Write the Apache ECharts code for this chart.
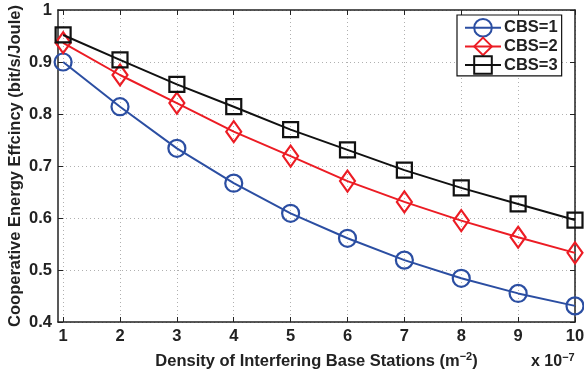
<!DOCTYPE html>
<html>
<head>
<meta charset="utf-8">
<script src="https://cdn.jsdelivr.net/npm/echarts@6/dist/echarts.min.js"></script>
<style>
  html, body { margin: 0; padding: 0; background: #fff; }
  #chart { width: 584px; height: 374px; }
</style>
</head>
<body>
<div id="chart"></div>
<script>
// Density of interfering base stations (x 10^-7 per m^2)
const density = [1, 2, 3, 4, 5, 6, 7, 8, 9, 10];
const xTicks = [1, 2, 3, 4, 5, 6, 7, 8, 9, 10];

// Cooperative energy efficiency (bit/s/Joule) per number of cooperating BSs
const cbs1 = [0.900, 0.814, 0.734, 0.667, 0.609, 0.561, 0.519, 0.484, 0.455, 0.431];
const cbs2 = [0.937, 0.875, 0.821, 0.766, 0.719, 0.671, 0.631, 0.595, 0.563, 0.533];
const cbs3 = [0.952, 0.904, 0.857, 0.814, 0.770, 0.731, 0.692, 0.658, 0.627, 0.596];

const seriesNames = ['CBS=1', 'CBS=2', 'CBS=3'];

const font = 'Liberation Sans, Arial, sans-serif';
const pairs = arr => density.map((x, i) => [x, arr[i]]);

const chart = echarts.init(document.getElementById('chart'), null, { renderer: 'canvas' });

const gridLine = { show: true, lineStyle: { color: '#b0b0b0', type: [1, 3], width: 1 } };
const axisLine = { show: true, onZero: false, lineStyle: { color: '#222', width: 1.5 } };
const supStyle = { fontFamily: font, fontWeight: 'bold', fontSize: 11, color: '#222', verticalAlign: 'top', padding: [0, 0, 9, 0] };

chart.setOption({
  animation: false,
  backgroundColor: '#fff',
  grid: { left: 58, right: 9, top: 10, bottom: 52, containLabel: false, outerBoundsMode: 'none' },
  legend: {
    data: seriesNames,
    orient: 'vertical',
    left: 457,
    top: 15,
    padding: [3, 4, 1, 7],
    itemGap: -1,
    itemWidth: 36,
    itemHeight: 22,
    backgroundColor: '#fff',
    borderColor: '#111',
    borderWidth: 1.2,
    textStyle: { fontFamily: font, fontWeight: 'bold', fontSize: 16.5, color: '#222', padding: [0, 0, 0, -2] }
  },
  xAxis: [
    {
      type: 'value', min: 0.91, max: 10, position: 'bottom',
      name: 'Density of Interfering Base Stations (m{sup|−2})',
      nameLocation: 'middle', nameGap: 29, nameMoveOverlap: false,
      nameTextStyle: {
        fontFamily: font, fontWeight: 'bold', fontSize: 16.5, color: '#222',
        rich: { sup: supStyle }
      },
      axisLine: axisLine,
      axisTick: { show: true, inside: true, length: 5, customValues: xTicks, lineStyle: { color: '#222' } },
      axisLabel: { customValues: xTicks, fontFamily: font, fontWeight: 'bold', fontSize: 16.5, color: '#222', margin: 6 },
      splitLine: gridLine
    },
    {
      type: 'value', min: 0.91, max: 10, position: 'top',
      axisLine: axisLine,
      axisTick: { show: true, inside: true, length: 5, customValues: xTicks, lineStyle: { color: '#222' } },
      axisLabel: { show: false },
      splitLine: { show: false }
    }
  ],
  yAxis: [
    {
      type: 'value', min: 0.4, max: 1, interval: 0.1, position: 'left',
      name: 'Cooperative Energy Effcincy (bit/s/Joule)',
      nameLocation: 'middle', nameGap: 34, nameMoveOverlap: false,
      nameTextStyle: { fontFamily: font, fontWeight: 'bold', fontSize: 16.5, color: '#222' },
      axisLine: axisLine,
      axisTick: { show: true, inside: true, length: 5, lineStyle: { color: '#222' } },
      axisLabel: {
        fontFamily: font, fontWeight: 'bold', fontSize: 16.5, color: '#222', margin: 6,
        formatter: v => (Math.abs(v - 1) < 1e-9 ? '1' : v.toFixed(1))
      },
      splitLine: gridLine
    },
    {
      type: 'value', min: 0.4, max: 1, interval: 0.1, position: 'right',
      axisLine: axisLine,
      axisTick: { show: true, inside: true, length: 5, lineStyle: { color: '#222' } },
      axisLabel: { show: false },
      splitLine: { show: false }
    }
  ],
  graphic: [
    {
      type: 'text', left: 531, top: 352,
      style: {
        text: 'x 10{sup|−7}',
        fontFamily: font, fontWeight: 'bold', fontSize: 16, fill: '#222',
        rich: { sup: { fontFamily: font, fontWeight: 'bold', fontSize: 11, fill: '#222', verticalAlign: 'top', padding: [0, 0, 9, 0] } }
      }
    }
  ],
  series: [
    {
      name: seriesNames[0], type: 'line', data: pairs(cbs1),
      symbol: 'circle', symbolSize: 17, showAllSymbol: true,
      lineStyle: { color: '#2b4ea2', width: 2 },
      itemStyle: { color: 'rgba(255,255,255,0)', borderColor: '#2b4ea2', borderWidth: 2.2 },
      z: 3
    },
    {
      name: seriesNames[1], type: 'line', data: pairs(cbs2),
      symbol: 'diamond', symbolSize: [15, 21], showAllSymbol: true,
      lineStyle: { color: '#ec1c24', width: 2 },
      itemStyle: { color: 'rgba(255,255,255,0)', borderColor: '#ec1c24', borderWidth: 2.2 },
      z: 4
    },
    {
      name: seriesNames[2], type: 'line', data: pairs(cbs3),
      symbol: 'rect', symbolSize: 15, showAllSymbol: true,
      lineStyle: { color: '#111', width: 2 },
      itemStyle: { color: 'rgba(255,255,255,0)', borderColor: '#111', borderWidth: 2.2 },
      z: 5
    }
  ]
});
</script>
</body>
</html>
